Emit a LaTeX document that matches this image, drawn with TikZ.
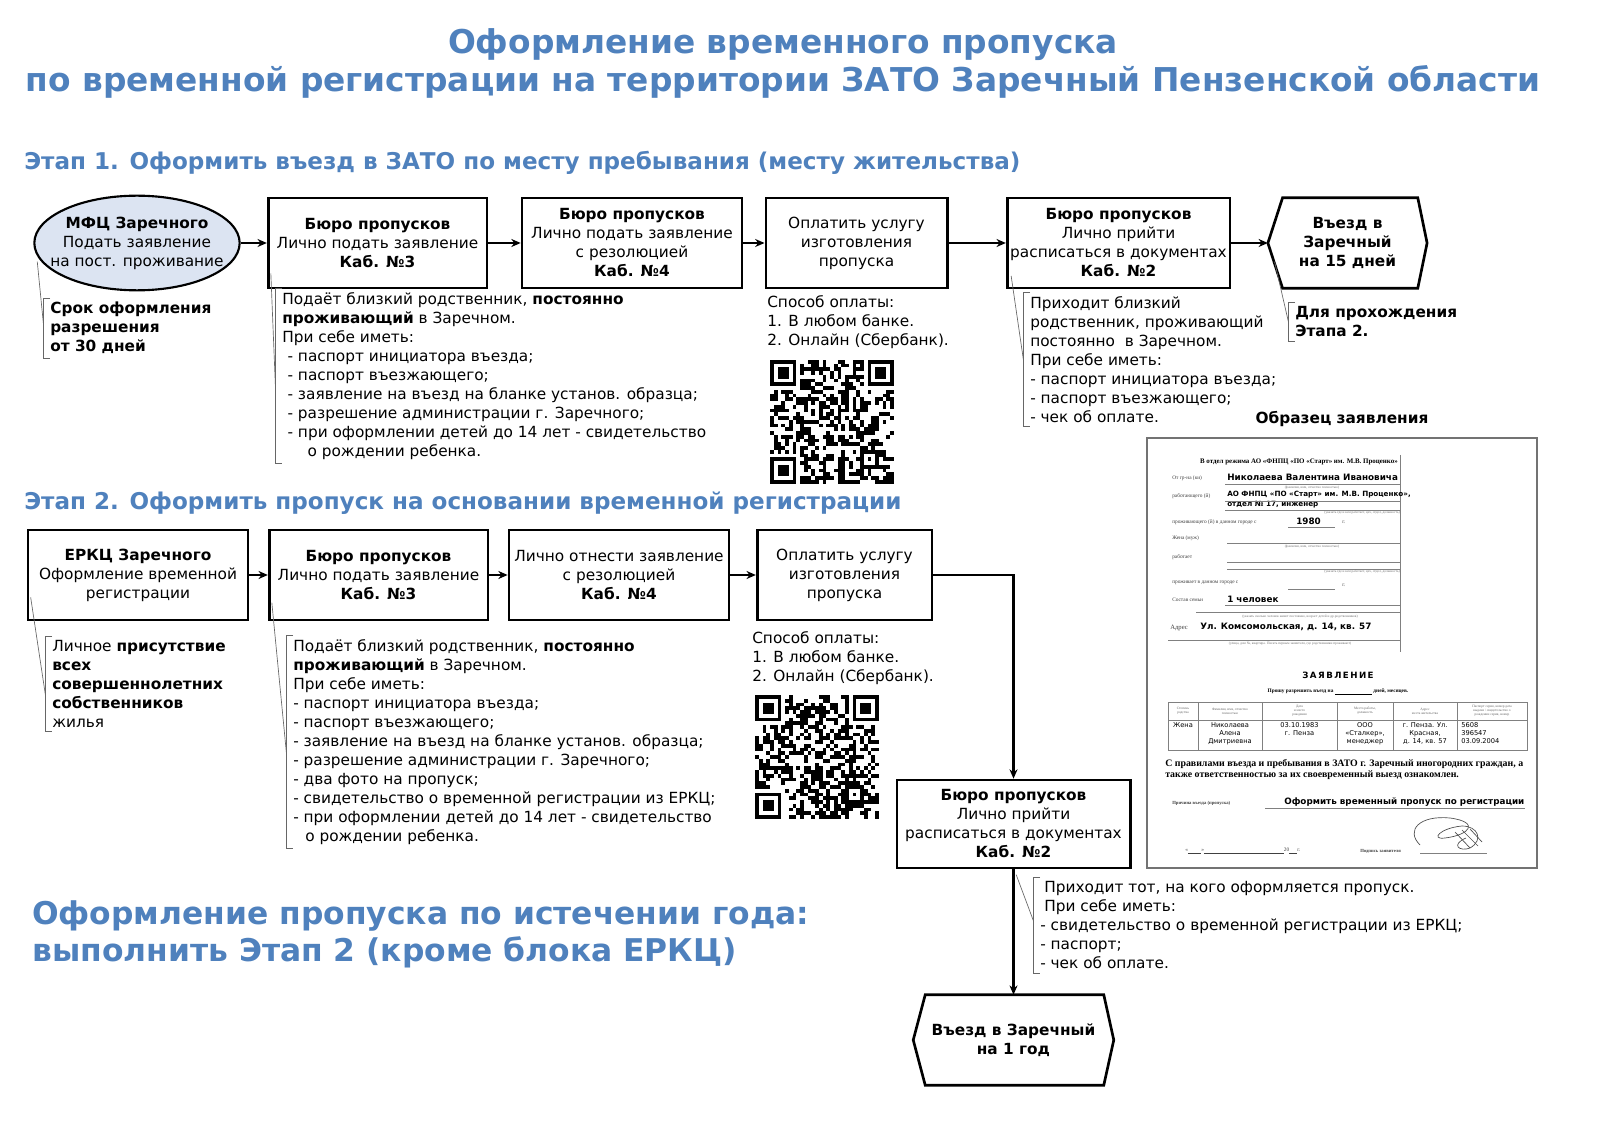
\documentclass[tikz,border=0pt]{standalone}
\usepackage{fontspec}
\setmainfont{DejaVu Sans}
\newfontfamily\formfont{Liberation Serif}
\usepackage{xcolor}
\usetikzlibrary{arrows.meta, calc, shapes.geometric, positioning}

\definecolor{headblue}{RGB}{79,129,189}
\definecolor{mfcfill}{RGB}{220,228,242}

\newcommand{\bodyfont}{\fontsize{11.5}{14.25}\selectfont}

% bracket on the left side of a note
\newcommand{\notebracket}[1]{%
  \draw[leader] ($(#1.north west)+(0pt,3pt)$) -- ($(#1.north west)+(-5pt,3pt)$)
    -- ($(#1.south west)+(-5pt,-3pt)$) -- ($(#1.south west)+(0pt,-3pt)$);}

% pseudo QR code, 33x33 modules
\newcommand{\qrpatch}[3]{%
  \begin{scope}[shift={(#1,#2)}]
    \pgfmathsetseed{#3}
    \foreach \i in {0,...,32}{
      \foreach \j in {0,...,32}{
        \pgfmathtruncatemacro{\bit}{rnd<0.5}
        \ifnum\bit=1 \fill (\i*3.75,\j*3.75) rectangle ++(3.75,3.75);\fi
      }}
    \foreach \cx/\cy/\sx/\sy in {0/0/0/0, 26/0/25/0, 0/26/0/25}{
      \fill[white] (\sx*3.75,\sy*3.75) rectangle ++(8*3.75,8*3.75);
      \fill (\cx*3.75,\cy*3.75) rectangle ++(7*3.75,7*3.75);
      \fill[white] (\cx*3.75+3.75,\cy*3.75+3.75) rectangle ++(5*3.75,5*3.75);
      \fill (\cx*3.75+7.5,\cy*3.75+7.5) rectangle ++(3*3.75,3*3.75);
    }
    \fill[white] (24*3.75,24*3.75) rectangle ++(5*3.75,5*3.75);
    \fill (24*3.75,24*3.75) rectangle ++(5*3.75,5*3.75);
    \fill[white] (25*3.75,25*3.75) rectangle ++(3*3.75,3*3.75);
    \fill (26*3.75,26*3.75) rectangle ++(3.75,3.75);
  \end{scope}}

\tikzset{
  title/.style={align=center, text=headblue, inner sep=0pt,
    font=\fontsize{24.6}{28.5}\selectfont\bfseries},
  stagehead/.style={anchor=west, text=headblue, inner sep=0pt,
    font=\fontsize{17.3}{20}\selectfont\bfseries},
  stepbox/.style={draw, line width=2pt, align=center, font=\bodyfont,
    inner sep=2pt, minimum height=67.5pt},
  boxtext/.style={align=center, font=\bodyfont, inner sep=0pt},
  mfcshape/.style={ellipse, draw, line width=1.6pt, fill=mfcfill,
    minimum width=154pt, minimum height=71pt},
  endbox/.style={align=center, font=\bodyfont\bfseries, inner sep=0pt,
    minimum height=67.5pt},
  flow/.style={line width=1.8pt, -{Stealth[length=7pt,width=6pt]}},
  leader/.style={draw=black!60, line width=0.5pt},
  note/.style={anchor=north west, align=left, inner sep=0pt, font=\bodyfont},
  formlab/.style={anchor=west, inner sep=0pt, text=black!75,
    font=\formfont\fontsize{4}{5}\selectfont},
  formcap/.style={inner sep=0pt, text=black!55,
    font=\formfont\fontsize{2.6}{3}\selectfont},
  formval/.style={anchor=west, inner sep=0pt,
    font=\fontsize{6.6}{7.5}\selectfont\bfseries},
  formline/.style={draw=black!50, line width=0.4pt},
  cell/.style={anchor=north, align=center, inner sep=0pt,
    font=\fontsize{5}{6}\selectfont},
  headcell/.style={align=center, inner sep=0pt, text=black!60,
    font=\formfont\fontsize{2.6}{3.1}\selectfont},
}

\begin{document}
\begin{tikzpicture}[x=0.75pt, y=-0.75pt]
\useasboundingbox (0,0) rectangle (1600,1130);
\fill[white] (0,0) rectangle (1600,1130);

% title
\node[title] (title) at (783,63)
  {Оформление временного пропуска\\по временной регистрации на территории ЗАТО Заречный Пензенской области};

% ---------- stage 1
\node[stagehead] (st1) at (24,163)
  {Этап 1. Оформить въезд в ЗАТО по месту пребывания (месту жительства)};

\node[mfcshape] (mfc) at (137,243) {};
\node[boxtext] (mfctext) at (mfc) {\textbf{МФЦ Заречного}\\Подать заявление\\на пост. проживание};
\node[stepbox, minimum width=164pt] (b1) at (377.5,243)
  {\textbf{Бюро пропусков}\\Лично подать заявление\\\textbf{Каб. №3}};
\node[stepbox, minimum width=165pt] (b2) at (632,243)
  {\textbf{Бюро пропусков}\\Лично подать заявление\\с резолюцией\\\textbf{Каб. №4}};
\node[stepbox, minimum width=136pt] (b3) at (856.5,243)
  {Оплатить услугу\\изготовления\\пропуска};
\node[stepbox, minimum width=167pt] (b4) at (1118.5,243)
  {\textbf{Бюро пропусков}\\Лично прийти\\расписаться в документах\\\textbf{Каб. №2}};
\node[endbox, minimum width=119pt] (fin1) at (1347.5,243) {Въезд в\\Заречный\\на 15 дней};
\draw[line width=2pt] ([xshift=11pt]fin1.north west) -- ([xshift=-7pt]fin1.north east)
  -- (fin1.east) -- ([xshift=-7pt]fin1.south east) -- ([xshift=11pt]fin1.south west)
  -- (fin1.west) -- cycle;

\draw[flow] (mfc) -- (b1);
\draw[flow] (b1) -- (b2);
\draw[flow] (b2) -- (b3);
\draw[flow] (b3) -- (b4);
\draw[flow] (b4) -- (fin1);

% notes of stage 1
\node[note, font=\bodyfont\bfseries] (a1) at (50,302) {Срок оформления\\разрешения\\от 30 дней};
\notebracket{a1}
\draw[leader] ([xshift=3pt,yshift=-14pt]mfc.west) -- ($(a1.north west)!0.4!(a1.south west)+(-5pt,0)$);

\node[note] (a2) at (282,292) {Подаёт близкий родственник, \textbf{постоянно}\\
  \textbf{проживающий} в Заречном.\\
  При себе иметь:\\
  \hspace*{4pt}- паспорт инициатора въезда;\\
  \hspace*{4pt}- паспорт въезжающего;\\
  \hspace*{4pt}- заявление на въезд на бланке установ. образца;\\
  \hspace*{4pt}- разрешение администрации г. Заречного;\\
  \hspace*{4pt}- при оформлении детей до 14 лет - свидетельство\\
  \hspace*{19pt}о рождении ребенка.};
\notebracket{a2}
\draw[leader] ([xshift=3pt,yshift=12pt]b1.south west) -- ($(a2.north west)!0.55!(a2.south west)+(-5pt,0)$);

\node[note] (a3) at (767,295) {Способ оплаты:\\1. В любом банке.\\2. Онлайн (Сбербанк).};
\qrpatch{770}{360}{17}

\node[note] (a4) at (1030,296) {Приходит близкий\\родственник, проживающий\\постоянно\ \ в Заречном.\\
  При себе иметь:\\- паспорт инициатора въезда;\\- паспорт въезжающего;\\- чек об оплате.};
\notebracket{a4}
\draw[leader] ([xshift=4pt,yshift=10pt]b4.south west) -- ($(a4.north west)!0.5!(a4.south west)+(-5pt,0)$);

\node[note, font=\bodyfont\bfseries] (a5) at (1295,306) {Для прохождения\\Этапа 2.};
\notebracket{a5}
\draw[leader] ([xshift=5pt,yshift=-14pt]fin1.west) -- ($(a5.north west)!0.5!(a5.south west)+(-5pt,0)$);

% ---------- sample form
\node[inner sep=0pt, font=\bodyfont\bfseries] (formtitle) at (1342,419) {Образец заявления};
\draw[draw=black!55, line width=0.8pt] (1147,438) rectangle (1537,868);
\draw[formline] (1400,455) -- (1400,652);
\node[anchor=east, inner sep=0pt, font=\formfont\fontsize{5.2}{6}\selectfont\bfseries] (fhead) at (1398,462)
  {В отдел режима АО «ФНПЦ «ПО «Старт» им. М.В. Проценко»};
\node[formlab] (flab1) at (1172,478) {От гр-на (ки)};
\node[formval] (fval1) at (1227,477) {Николаева Валентина Ивановича};
\draw[formline] (1225,484) -- (1400,484);
\node[formcap] (fcap1) at (1312,488) {(фамилия, имя, отчество полностью)};
\node[formlab] (flab2) at (1172,496) {работающего (й)};
\node[formval, font=\fontsize{5.4}{6.5}\selectfont\bfseries] (fval2) at (1227,495) {АО ФНПЦ «ПО «Старт» им. М.В. Проценко»,};
\node[formval, font=\fontsize{5.4}{6.5}\selectfont\bfseries] (fval3) at (1227,505) {отдел № 17, инженер};
\draw[formline] (1225,501) -- (1400,501);
\draw[formline] (1225,510) -- (1400,510);
\node[formcap, anchor=east] (fcap2) at (1400,513) {(указать где и кем работает, цех, отдел, должность)};
\node[formlab] (flab3) at (1172,522) {проживающего (й) в данном городе с};
\node[formval] (fval4) at (1296,521) {1980};
\draw[formline] (1288,527) -- (1335,527);
\node[formlab] (flab4) at (1342,522) {г.};
\node[formlab] (flab5) at (1172,538) {Жена (муж)};
\draw[formline] (1227,543) -- (1400,543);
\node[formcap] (fcap3) at (1312,547) {(фамилия, имя, отчество полностью)};
\node[formlab] (flab6) at (1172,557) {работает};
\draw[formline] (1227,562) -- (1400,562);
\draw[formline] (1227,569) -- (1400,569);
\node[formcap, anchor=east] (fcap4) at (1400,572) {(указать где и кем работает, цех, отдел, должность)};
\node[formlab] (flab7) at (1172,583) {проживает в данном городе с};
\draw[formline] (1288,589) -- (1335,589);
\node[formlab] (flab8) at (1342,585) {г.};
\node[formlab] (flab9) at (1172,600) {Состав семьи};
\node[formval] (fval5) at (1227,599) {1 человек};
\draw[formline] (1225,605) -- (1400,605);
\draw[formline] (1196,612) -- (1400,612);
\node[formcap] (fcap5) at (1300,617) {(указать сколько человек живет постоянно, возраст детей и др.родственников)};
\node[formlab, font=\formfont\fontsize{5}{6}\selectfont] (flab10) at (1170,628) {Адрес};
\node[formval] (fval6) at (1200,627) {Ул. Комсомольская, д. 14, кв. 57};
\draw[formline] (1168,640) -- (1400,640);
\node[formcap] (fcap6) at (1290,644) {(улица, дом №, квартира. Писать первым заявителя, где родственники проживают)};

\node[inner sep=0pt, font=\fontsize{6.5}{7}\selectfont\bfseries] (fzayav) at (1338,675) {З\,А\,Я\,В\,Л\,Е\,Н\,И\,Е};
\node[inner sep=0pt, font=\formfont\fontsize{4}{5}\selectfont\bfseries] (fask) at (1338,692)
  {Прошу разрешить въезд на \underline{\hspace{28pt}} дней, месяцев.};
% table
\draw[formline] (1168,702) rectangle (1527,750);
\draw[formline] (1168,720) -- (1527,720);
\foreach \cx in {1198,1262,1337,1393,1457}
  \draw[formline] (\cx,702) -- (\cx,750);
\node[headcell] (th1) at (1183,711) {Степень\\родства};
\node[headcell] (th2) at (1230,711) {Фамилия, имя, отчество\\полностью};
\node[headcell] (th3) at (1299.5,711) {Дата\\и место\\рождения};
\node[headcell] (th4) at (1365,711) {Место работы,\\должность};
\node[headcell] (th5) at (1425,711) {Адрес\\места жительства};
\node[headcell] (th6) at (1492,711) {Паспорт серия, номер дата\\выдачи / свидетельство о\\рождении серия, номер};
\node[cell] (td1) at (1183,722) {Жена};
\node[cell] (td2) at (1230,722) {Николаева\\Алена\\Дмитриевна};
\node[cell] (td3) at (1299.5,722) {03.10.1983\\г. Пенза};
\node[cell] (td4) at (1365,722) {ООО\\«Сталкер»,\\менеджер};
\node[cell] (td5) at (1425,722) {г. Пенза. Ул.\\Красная,\\д. 14, кв. 57};
\node[cell, anchor=north west, align=left] (td6) at (1461,722) {5608\\396547\\03.09.2004};

\node[anchor=north west, align=left, inner sep=0pt, font=\formfont\fontsize{7.4}{8.4}\selectfont\bfseries] (frules) at (1165,759)
  {С правилами въезда и пребывания в ЗАТО г. Заречный иногородних граждан, а\\также ответственностью за их своевременный выезд ознакомлен.};
\node[formlab, font=\formfont\fontsize{3.5}{4}\selectfont\bfseries] (flab11) at (1172,803) {Причина въезда (пропуска)};
\node[formval] (fval7) at (1284,802) {Оформить временный пропуск по регистрации};
\draw[formline] (1265,808) -- (1525,808);
% signature
\draw[black!70, line width=0.5pt] (1420,845) .. controls (1405,830) and (1420,815) .. (1450,818)
  .. controls (1480,822) and (1470,835) .. (1445,838) .. controls (1430,840) and (1440,828) .. (1462,826)
  .. controls (1478,826) and (1484,840) .. (1470,848) .. controls (1460,852) and (1450,845) .. (1466,838);
\draw[black!70, line width=0.5pt] (1455,832) -- (1470,848) (1462,830) -- (1478,846) (1470,829) -- (1482,842);
\node[formlab] (fdate) at (1185,851) {«\underline{\hspace{10pt}}»\underline{\hspace{60pt}}20\underline{\hspace{6pt}}г.};
\node[formlab, font=\formfont\fontsize{3.5}{4}\selectfont\bfseries] (fsign) at (1360,851) {Подпись заявителя};
\draw[formline] (1420,853) -- (1487,853);

% ---------- stage 2
\node[stagehead] (st2) at (24,503)
  {Этап 2. Оформить пропуск на основании временной регистрации};

\node[stepbox, minimum width=165pt] (e1) at (138,575)
  {\textbf{ЕРКЦ Заречного}\\Оформление временной\\регистрации};
\node[stepbox, minimum width=164pt] (e2) at (378.5,575)
  {\textbf{Бюро пропусков}\\Лично подать заявление\\\textbf{Каб. №3}};
\node[stepbox, minimum width=165pt] (e3) at (619,575)
  {Лично отнести заявление\\с резолюцией\\\textbf{Каб. №4}};
\node[stepbox, minimum width=131pt] (e4) at (844.5,575)
  {Оплатить услугу\\изготовления\\пропуска};
\node[stepbox, minimum width=175pt, minimum height=66pt] (e5) at (1013.5,824)
  {\textbf{Бюро пропусков}\\Лично прийти\\расписаться в документах\\\textbf{Каб. №2}};
\node[endbox, minimum width=150pt] (e6) at (1013.5,1040) {Въезд в Заречный\\на 1 год};
\draw[line width=2pt] ([xshift=9pt]e6.north west) -- ([xshift=-7.5pt]e6.north east)
  -- (e6.east) -- ([xshift=-7.5pt]e6.south east) -- ([xshift=9pt]e6.south west)
  -- (e6.west) -- cycle;

\draw[flow] (e1) -- (e2);
\draw[flow] (e2) -- (e3);
\draw[flow] (e3) -- (e4);
\draw[flow] (e4) -| (e5);
\draw[flow] (e5) -- (e6);

% notes of stage 2
\node[note] (n1) at (52,640) {Личное \textbf{присутствие}\\\textbf{всех}\\\textbf{совершеннолетних}\\\textbf{собственников}\\жилья};
\notebracket{n1}
\draw[leader] ([xshift=3pt,yshift=18pt]e1.south west) -- ($(n1.north west)!0.62!(n1.south west)+(-5pt,0)$);

\node[note] (n2) at (293,639) {Подаёт близкий родственник, \textbf{постоянно}\\
  \textbf{проживающий} в Заречном.\\
  При себе иметь:\\
  - паспорт инициатора въезда;\\
  - паспорт въезжающего;\\
  - заявление на въезд на бланке установ. образца;\\
  - разрешение администрации г. Заречного;\\
  - два фото на пропуск;\\
  - свидетельство о временной регистрации из ЕРКЦ;\\
  - при оформлении детей до 14 лет - свидетельство\\
  \hspace*{9pt}о рождении ребенка.};
\notebracket{n2}
\draw[leader] ([xshift=3pt,yshift=14pt]e2.south west) -- ($(n2.north west)!0.55!(n2.south west)+(-5pt,0)$);

\node[note] (n3) at (752,631) {Способ оплаты:\\1. В любом банке.\\2. Онлайн (Сбербанк).};
\qrpatch{755}{695}{29}

\node[note] (n4) at (1040,881) {\hspace*{3pt}Приходит тот, на кого оформляется пропуск.\\
  \hspace*{3pt}При себе иметь:\\- свидетельство о временной регистрации из ЕРКЦ;\\- паспорт;\\- чек об оплате.};
\notebracket{n4}
\draw[leader] ([xshift=2pt,yshift=-4pt]e5.south) -- ($(n4.north west)!0.45!(n4.south west)+(-5pt,0)$);

% renewal
\node[anchor=west, align=left, text=headblue, inner sep=0pt,
  font=\fontsize{23.5}{27.75}\selectfont\bfseries] (renew) at (32,934)
  {Оформление пропуска по истечении года:\\выполнить Этап 2 (кроме блока ЕРКЦ)};
\end{tikzpicture}
\end{document}
